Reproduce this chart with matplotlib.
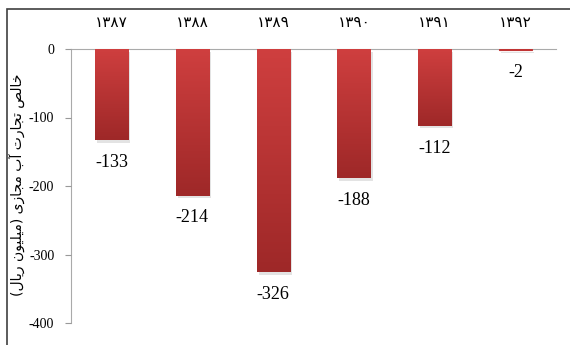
import matplotlib
matplotlib.use('Agg')
import matplotlib.pyplot as plt
import matplotlib.patches as mpatches
import matplotlib.patheffects as pe
import numpy as np
from matplotlib.colors import LinearSegmentedColormap

years = ['۱۳۸۷', '۱۳۸۸', '۱۳۸۹', '۱۳۹۰', '۱۳۹۱', '۱۳۹۲']
values = [-133, -214, -326, -188, -112, -2]
y_ticks = [0, -100, -200, -300, -400]
ylabel = 'خالص تجارت آب مجازی (میلیون ریال)'

# tiny arabic shaper (matplotlib has no shaping): isolated, final, initial, medial
forms = {
    'ا': ('\uFE8D', '\uFE8E', None, None),
    'آ': ('\uFE81', '\uFE82', None, None),
    'ب': ('\uFE8F', '\uFE90', '\uFE91', '\uFE92'),
    'ت': ('\uFE95', '\uFE96', '\uFE97', '\uFE98'),
    'ج': ('\uFE9D', '\uFE9E', '\uFE9F', '\uFEA0'),
    'خ': ('\uFEA5', '\uFEA6', '\uFEA7', '\uFEA8'),
    'ر': ('\uFEAD', '\uFEAE', None, None),
    'ز': ('\uFEAF', '\uFEB0', None, None),
    'ص': ('\uFEB9', '\uFEBA', '\uFEBB', '\uFEBC'),
    'ل': ('\uFEDD', '\uFEDE', '\uFEDF', '\uFEE0'),
    'م': ('\uFEE1', '\uFEE2', '\uFEE3', '\uFEE4'),
    'ن': ('\uFEE5', '\uFEE6', '\uFEE7', '\uFEE8'),
    'و': ('\uFEED', '\uFEEE', None, None),
    'ی': ('\uFEEF', '\uFEF0', '\uFEF3', '\uFEF4'),
}


def shape(s):
    out = []
    for i, c in enumerate(s):
        if c not in forms:
            out.append(c)
            continue
        prev = s[i-1] if i > 0 else ''
        nxt = s[i+1] if i < len(s)-1 else ''
        p = prev in forms and forms[prev][2] is not None
        n = nxt in forms and forms[c][2] is not None
        if p and n:
            out.append(forms[c][3])
        elif p:
            out.append(forms[c][1])
        elif n:
            out.append(forms[c][2])
        else:
            out.append(forms[c][0])
    vis = ''.join(reversed(out))
    return vis.translate(str.maketrans('()', ')('))


serif = ['Liberation Serif', 'DejaVu Sans']

fig = plt.figure(figsize=(5.7, 3.45), dpi=100)
ax = fig.add_axes([71/570, 1-323/345, 485/570, 274/345])

# outer frame
fig.patches.append(mpatches.Rectangle((7/570, -0.1), 1.1, 1 - 9/345 + 0.1,
                                      transform=fig.transFigure, fill=False,
                                      edgecolor='#404040', linewidth=1.2))

x = np.arange(len(years))
bars = ax.bar(x, values, width=0.41, color='#c03434', edgecolor='#c03434',
              linewidth=0.8, zorder=2)

cmap = LinearSegmentedColormap.from_list('redgrad', ['#cf3f3f', '#9e2828'])
grad = np.linspace(0, 1, 256).reshape(-1, 1)
for b in bars:
    b.set_path_effects([pe.SimplePatchShadow(offset=(1.5, -2), alpha=0.2, shadow_rgbFace='#777777'), pe.Normal()])
    x0, w = b.get_x(), b.get_width()
    y1 = b.get_y() + b.get_height()
    if abs(y1) < 5:
        # too thin for the gradient, keep the outline so it shows
        continue
    b.set_linewidth(0)
    im = ax.imshow(grad, extent=[x0, x0 + w, y1, 0], aspect='auto', cmap=cmap,
                   origin='upper', zorder=3)
    im.set_clip_path(b)

for xi, v in zip(x, values):
    ax.annotate(str(v), (xi, v), xytext=(0, -10), textcoords='offset points',
                ha='center', va='top', fontsize=13, family=serif)

ax.set_xlim(-0.5, len(years) - 0.5)
ax.set_ylim(-400, 0)
ax.set_yticks(y_ticks)
ax.set_yticklabels([str(t) for t in y_ticks], family=serif, fontsize=10)
ax.tick_params(axis='y', length=4, color='#999999', pad=8)

ax.xaxis.tick_top()
ax.set_xticks(x)
ax.set_xticklabels(years, family=serif, fontsize=11)
ax.tick_params(axis='x', length=0, pad=14)

for s in ['bottom', 'right']:
    ax.spines[s].set_visible(False)
ax.spines['left'].set_color('#aaaaaa')
ax.spines['top'].set_color('#aaaaaa')
ax.spines['top'].set_zorder(1)
ax.spines['left'].set_zorder(1)

fig.text(18/570, 1 - 185/345, shape(ylabel), rotation=90, ha='center', va='center',
         fontsize=10, family=['DejaVu Sans'])

fig.savefig('out.png', dpi=100)
